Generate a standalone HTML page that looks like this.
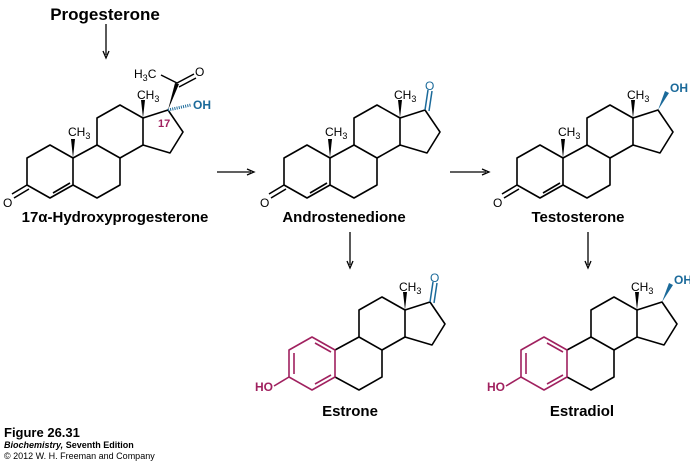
<!DOCTYPE html>
<html><head><style>
body{margin:0;background:#fff;width:690px;height:463px;overflow:hidden}
svg{display:block}
text{font-family:"Liberation Sans",sans-serif}
.t{font-weight:bold;font-size:15px;text-anchor:middle}
.a{font-size:12px}
</style></head><body>
<svg width="690" height="463" viewBox="0 0 690 463">
<defs>
<g id="bcd" fill="none" stroke="#000" stroke-width="1.6" stroke-linejoin="round">
<path d="M73,158 L97,145 L120,158 L120,185 L97,198 L73,185"/>
<path d="M97,145 L97,118 L120,105 L143,118 L143,145 L120,158"/>
<path d="M143,118 L168,110 L183,132 L170,153 L143,145"/>
<polygon points="143,118 141,100 145,100" fill="#000" stroke="none"/>
</g>
<g id="enone" fill="none" stroke="#000" stroke-width="1.6" stroke-linejoin="round">
<path d="M73,185 L50,198 L27,185 L27,158 L50,145 L73,158 L73,185"/>
<path d="M53,193 L70,183"/>
<path d="M27,185 L12,194 M29,189 L14,198"/>
<polygon points="73,158 71,139 75,139" fill="#000" stroke="none"/>
</g>
<g id="arom" fill="none" stroke="#a0215f" stroke-width="1.6" stroke-linejoin="round">
<path d="M73,185 L50,198 L27,185 L27,158 L50,145 L73,158 Z"/>
<path d="M32,161 L32,182 M53,151 L69,160 M69,183 L53,192"/>
<path d="M27,185 L12,194"/>
</g>
</defs>

<text x="105" y="20" font-weight="bold" font-size="17" text-anchor="middle">Progesterone</text>
<g stroke="#000" stroke-width="1.3" fill="#000">
<line x1="106" y1="24" x2="106" y2="55"/><path d="M103,51 L106,58 L109,51" fill="none"/>
<line x1="217" y1="172" x2="251" y2="172"/><path d="M247,169 L254,172 L247,175" fill="none"/>
<line x1="450" y1="172" x2="486" y2="172"/><path d="M482,169 L489,172 L482,175" fill="none"/>
<line x1="350" y1="232" x2="350" y2="265"/><path d="M347,261 L350,268 L353,261" fill="none"/>
<line x1="588" y1="232" x2="588" y2="265"/><path d="M585,261 L588,268 L591,261" fill="none"/>
</g>

<!-- 17a-hydroxyprogesterone -->
<use href="#bcd"/><use href="#enone"/>
<text class="a" x="3" y="207">O</text>
<text class="a" x="68" y="136">CH<tspan font-size="9" dy="3">3</tspan></text>
<text class="a" x="137" y="99">CH<tspan font-size="9" dy="3">3</tspan></text>
<polygon points="168,110 175,83 179,84" fill="#000"/>
<path d="M177,83 L194,74 M179,87 L196,78" stroke="#000" stroke-width="1.5"/>
<path d="M177,83 L161,75" stroke="#000" stroke-width="1.5"/>
<text class="a" x="134" y="78">H<tspan font-size="9" dy="3">3</tspan><tspan dy="-3">C</tspan></text>
<text class="a" x="195" y="76">O</text>
<path d="M168,110 L191,105" stroke="#1b6a9a" stroke-width="3" stroke-dasharray="1,1.2"/>
<text class="a" x="193" y="109" fill="#1b6a9a" font-weight="bold">OH</text>
<text x="158" y="127" font-size="11" fill="#a0215f" font-weight="bold">17</text>
<text class="t" x="115" y="222">17α-Hydroxyprogesterone</text>

<!-- androstenedione -->
<g transform="translate(257,0)">
<use href="#bcd"/><use href="#enone"/>
<text class="a" x="3" y="207">O</text>
<text class="a" x="68" y="136">CH<tspan font-size="9" dy="3">3</tspan></text>
<text class="a" x="137" y="99">CH<tspan font-size="9" dy="3">3</tspan></text>
<path d="M168,110 L171,90 M172,111 L175,91" stroke="#1b6a9a" stroke-width="1.5"/>
<text class="a" x="168" y="90" fill="#1b6a9a">O</text>
</g>
<text class="t" x="344" y="222">Androstenedione</text>

<!-- testosterone -->
<g transform="translate(490,0)">
<use href="#bcd"/><use href="#enone"/>
<text class="a" x="3" y="207">O</text>
<text class="a" x="68" y="136">CH<tspan font-size="9" dy="3">3</tspan></text>
<text class="a" x="137" y="99">CH<tspan font-size="9" dy="3">3</tspan></text>
<polygon points="168,110 175,91 179,93" fill="#1b6a9a"/>
<text class="a" x="180" y="92" fill="#1b6a9a" font-weight="bold">OH</text>
</g>
<text class="t" x="578" y="222">Testosterone</text>

<!-- estrone -->
<g transform="translate(262,192)">
<use href="#bcd"/><use href="#arom"/>
<text class="a" x="-7" y="199" fill="#a0215f" font-weight="bold">HO</text>
<text class="a" x="137" y="99">CH<tspan font-size="9" dy="3">3</tspan></text>
<path d="M168,110 L171,90 M172,111 L175,91" stroke="#1b6a9a" stroke-width="1.5"/>
<text class="a" x="168" y="90" fill="#1b6a9a">O</text>
</g>
<text class="t" x="350" y="416">Estrone</text>

<!-- estradiol -->
<g transform="translate(494,192)">
<use href="#bcd"/><use href="#arom"/>
<text class="a" x="-7" y="199" fill="#a0215f" font-weight="bold">HO</text>
<text class="a" x="137" y="99">CH<tspan font-size="9" dy="3">3</tspan></text>
<polygon points="168,110 175,91 179,93" fill="#1b6a9a"/>
<text class="a" x="180" y="92" fill="#1b6a9a" font-weight="bold">OH</text>
</g>
<text class="t" x="582" y="416">Estradiol</text>

<text x="4" y="437" font-weight="bold" font-size="13">Figure 26.31</text>
<text x="4" y="448" font-size="9"><tspan font-weight="bold" font-style="italic">Biochemistry,</tspan><tspan font-weight="bold"> Seventh Edition</tspan></text>
<text x="4" y="459" font-size="9">© 2012 W. H. Freeman and Company</text>
</svg>
</body></html>
